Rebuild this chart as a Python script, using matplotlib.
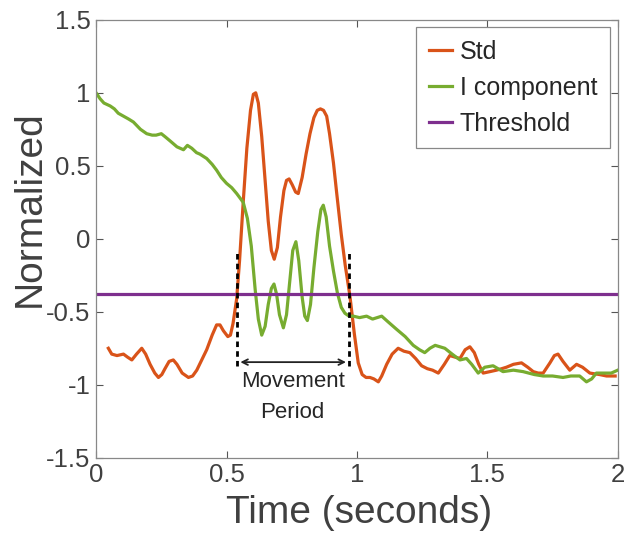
import numpy as np
import matplotlib
matplotlib.use("Agg")
import matplotlib.pyplot as plt

plt.rcParams['font.family'] = ['Liberation Sans', 'DejaVu Sans']
plt.rcParams['axes.unicode_minus'] = False

# Std curve
std_t = [0.047, 0.06, 0.08, 0.105, 0.12, 0.137, 0.155, 0.175, 0.19, 0.207, 0.225, 0.239,
         0.252, 0.264, 0.28, 0.296, 0.31, 0.33, 0.354, 0.37, 0.386, 0.405, 0.424, 0.445,
         0.462, 0.475, 0.488, 0.505, 0.515, 0.525, 0.539, 0.55, 0.564, 0.578, 0.592, 0.603,
         0.612, 0.622, 0.635, 0.648, 0.66, 0.672, 0.683, 0.695, 0.707, 0.72, 0.73, 0.74,
         0.752, 0.765, 0.775, 0.79, 0.805, 0.82, 0.835, 0.848, 0.86, 0.872, 0.884, 0.895,
         0.91, 0.922, 0.94, 0.955, 0.973, 0.99, 1.005, 1.02, 1.035, 1.05, 1.065, 1.082,
         1.095, 1.114, 1.135, 1.158, 1.18, 1.203, 1.225, 1.248, 1.27, 1.29, 1.312, 1.335,
         1.356, 1.375, 1.395, 1.415, 1.433, 1.45, 1.467, 1.484, 1.51, 1.535, 1.555, 1.573,
         1.6, 1.631, 1.655, 1.676, 1.695, 1.714, 1.74, 1.757, 1.771, 1.79, 1.816, 1.842,
         1.865, 1.893, 1.93, 1.957, 1.99]
std_v = [-0.75, -0.79, -0.80, -0.79, -0.81, -0.83, -0.79, -0.75, -0.79, -0.86, -0.92, -0.95,
         -0.93, -0.89, -0.84, -0.83, -0.86, -0.92, -0.95, -0.94, -0.90, -0.83, -0.76, -0.66,
         -0.59, -0.59, -0.63, -0.67, -0.66, -0.58, -0.41, -0.15, 0.25, 0.62, 0.88, 0.99,
         1.00, 0.93, 0.70, 0.40, 0.12, -0.08, -0.14, -0.06, 0.15, 0.33, 0.40, 0.41,
         0.37, 0.32, 0.31, 0.42, 0.58, 0.72, 0.83, 0.88, 0.89, 0.88, 0.84, 0.72,
         0.52, 0.32, 0.03, -0.18, -0.39, -0.65, -0.85, -0.93, -0.95, -0.95, -0.96, -0.98,
         -0.94, -0.86, -0.79, -0.75, -0.77, -0.78, -0.82, -0.87, -0.89, -0.90, -0.92, -0.86,
         -0.80, -0.81, -0.82, -0.76, -0.74, -0.78, -0.86, -0.92, -0.91, -0.90, -0.89, -0.88,
         -0.86, -0.85, -0.88, -0.91, -0.92, -0.92, -0.85, -0.80, -0.79, -0.84, -0.90, -0.86,
         -0.88, -0.92, -0.93, -0.94, -0.94]

# I component curve
ic_t = [0, 0.015, 0.03, 0.054, 0.07, 0.085, 0.105, 0.125, 0.143, 0.17, 0.194, 0.215,
        0.23, 0.25, 0.264, 0.284, 0.31, 0.335, 0.35, 0.367, 0.385, 0.398, 0.424, 0.445,
        0.462, 0.48, 0.5, 0.52, 0.539, 0.564, 0.58, 0.595, 0.61, 0.622, 0.635, 0.648,
        0.66, 0.672, 0.682, 0.692, 0.703, 0.718, 0.73, 0.742, 0.754, 0.766, 0.777, 0.79,
        0.80, 0.81, 0.822, 0.835, 0.85, 0.862, 0.871, 0.882, 0.895, 0.91, 0.925, 0.94,
        0.954, 0.97, 0.986, 1.01, 1.037, 1.06, 1.095, 1.12, 1.152, 1.185, 1.216, 1.24,
        1.26, 1.28, 1.3, 1.337, 1.365, 1.395, 1.42, 1.44, 1.465, 1.49, 1.522, 1.56,
        1.6, 1.637, 1.68, 1.714, 1.75, 1.79, 1.82, 1.854, 1.88, 1.9, 1.918, 1.95, 1.975, 2.0]
ic_v = [1.0, 0.96, 0.93, 0.91, 0.89, 0.86, 0.84, 0.82, 0.80, 0.75, 0.72, 0.71,
        0.71, 0.72, 0.70, 0.67, 0.63, 0.61, 0.64, 0.62, 0.59, 0.58, 0.55, 0.51,
        0.47, 0.42, 0.38, 0.35, 0.31, 0.25, 0.14, -0.05, -0.35, -0.55, -0.66, -0.60,
        -0.45, -0.34, -0.31, -0.38, -0.52, -0.61, -0.52, -0.30, -0.08, -0.02, -0.15, -0.40,
        -0.53, -0.56, -0.45, -0.20, 0.05, 0.20, 0.23, 0.15, -0.05, -0.22, -0.37, -0.47,
        -0.51, -0.53, -0.53, -0.54, -0.53, -0.55, -0.53, -0.57, -0.62, -0.67, -0.73, -0.76,
        -0.78, -0.75, -0.73, -0.75, -0.79, -0.83, -0.82, -0.86, -0.92, -0.88, -0.87, -0.91,
        -0.90, -0.91, -0.93, -0.94, -0.94, -0.95, -0.94, -0.94, -0.98, -0.96, -0.92, -0.92, -0.92, -0.90]

threshold = -0.38
move_start, move_end = 0.539, 0.971

fig = plt.figure(figsize=(6.24, 5.36), dpi=100)
ax = fig.add_axes([0.154, 0.146, 0.836, 0.817])

ax.plot(std_t, std_v, color='#D95319', lw=2.3, label='Std')
ax.plot(ic_t, ic_v, color='#77AC30', lw=2.3, label='I component')
ax.axhline(threshold, color='#7E2F8E', lw=2.3, label='Threshold')

# movement period markers
for xm in (move_start, move_end):
    ax.plot([xm, xm], [-0.87, -0.09], color='black', lw=2, ls=(0, (2, 1.5)))
ax.annotate('', xy=(0.553, -0.845), xytext=(0.958, -0.845),
            arrowprops=dict(arrowstyle='<->', color='#222222', lw=1.3,
                            shrinkA=0, shrinkB=0))
ax.text(0.755, -0.975, 'Movement', ha='center', va='center', fontsize=16, color='#262626')
ax.text(0.753, -1.19, 'Period', ha='center', va='center', fontsize=16, color='#262626')

ax.set_xlim(0, 2)
ax.set_ylim(-1.5, 1.5)
ax.set_xticks([0, 0.5, 1, 1.5, 2])
ax.set_xticklabels(['0', '0.5', '1', '1.5', '2'])
ax.set_yticks([-1.5, -1, -0.5, 0, 0.5, 1, 1.5])
ax.set_yticklabels(['-1.5', '-1', '-0.5', '0', '0.5', '1', '1.5'])
ax.tick_params(direction='in', top=True, right=True, length=5, width=0.8,
               color='#555555', labelcolor='#404040', labelsize=18.5, pad=4)
for sp in ax.spines.values():
    sp.set_color('#888888')
    sp.set_linewidth(0.9)

ax.set_xlabel('Time (seconds)', fontsize=28, color='#404040')
ax.set_ylabel('Normalized', fontsize=28, color='#404040')
ax.xaxis.set_label_coords(0.504, -0.085)
ax.yaxis.set_label_coords(-0.092, 0.57)

leg = ax.legend(loc='upper right', bbox_to_anchor=(0.985, 0.983), fontsize=18,
                frameon=True, fancybox=False, edgecolor='#888888', framealpha=1,
                handlelength=0.95, handletextpad=0.3, labelspacing=0.48,
                borderpad=0.5, borderaxespad=0)
leg.get_frame().set_linewidth(0.9)
for t in leg.get_texts():
    t.set_color('#262626')

fig.savefig('out.png', dpi=100)
